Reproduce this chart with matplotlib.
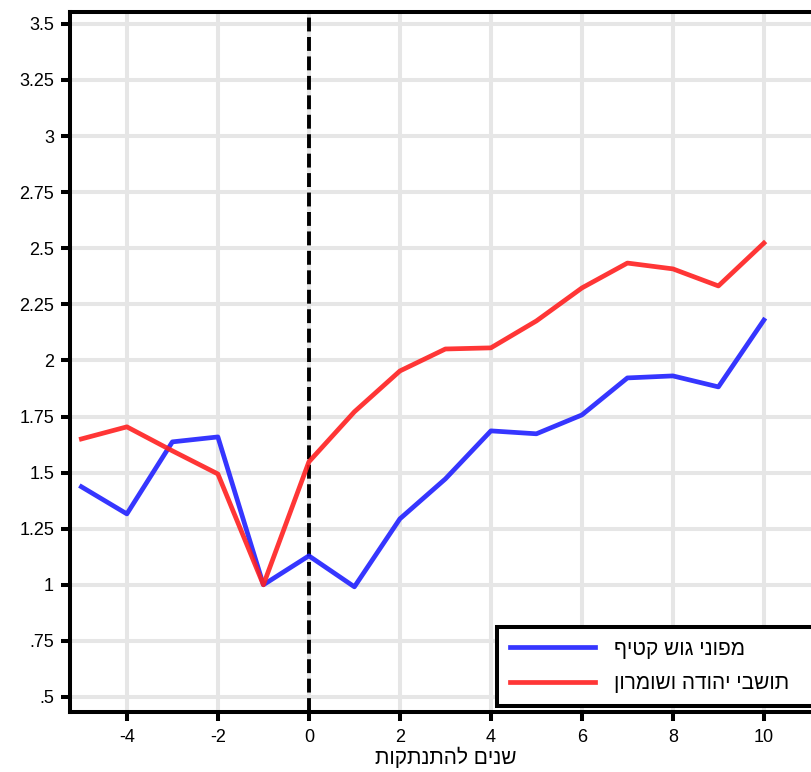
import matplotlib
matplotlib.use('Agg')
import matplotlib.pyplot as plt
import numpy as np

plt.rcParams['font.family'] = ['Liberation Sans', 'DejaVu Sans']
plt.rcParams['lines.scale_dashes'] = False

years = [-5, -4, -3, -2, -1, 0, 1, 2, 3, 4, 5, 6, 7, 8, 9, 10]
gush_katif = [1.437, 1.316, 1.637, 1.659, 1.0, 1.129, 0.991, 1.294, 1.472,
              1.686, 1.673, 1.757, 1.922, 1.931, 1.882, 2.180]
judea_samaria = [1.650, 1.704, 1.597, 1.494, 1.0, 1.548, 1.771, 1.953, 2.051,
                 2.056, 2.176, 2.323, 2.434, 2.408, 2.332, 2.523]

label_blue = 'מפוני גוש קטיף'
label_red = 'תושבי יהודה ושומרון'
xlabel = 'שנים להתנתקות'

xticks = [-4, -2, 0, 2, 4, 6, 8, 10]
yticks = [0.5, 0.75, 1, 1.25, 1.5, 1.75, 2, 2.25, 2.5, 2.75, 3, 3.25, 3.5]
ytick_labels = ['.5', '.75', '1', '1.25', '1.5', '1.75', '2', '2.25', '2.5',
                '2.75', '3', '3.25', '3.5']


def rtl(s):
    # matplotlib has no bidi, so flip hebrew text by hand
    return s[::-1]


W, H = 811, 772
fig = plt.figure(figsize=(W / 100, H / 100), dpi=100)
ax = fig.add_axes([70 / W, 60 / H, 748.5 / W, 700 / H])

ax.set_xlim(-5.25, 11.2)
ax.set_ylim(0.433, 3.553)

ax.grid(True, color='#e6e6e6', linewidth=2.9)
ax.set_axisbelow(True)

ax.axvline(0, color='black', linewidth=2.8, dashes=(10, 4), zorder=2)

ax.plot(years, gush_katif, color='#2020ff', linewidth=3.4, alpha=0.9,
        label=rtl(label_blue), zorder=3)
ax.plot(years, judea_samaria, color='#ff2020', linewidth=3.4, alpha=0.9,
        label=rtl(label_red), zorder=4)

ax.set_xticks(xticks)
ax.set_xticklabels([str(x) for x in xticks])
ax.set_yticks(yticks)
ax.set_yticklabels(ytick_labels)
ax.tick_params(axis='both', direction='out', length=6.5, width=2.9,
               labelsize=13, color='black')
ax.tick_params(axis='y', pad=5)
ax.tick_params(axis='x', pad=6)

for sp in ax.spines.values():
    sp.set_linewidth(2.9)
    sp.set_color('black')

leg = ax.legend(loc='lower left', bbox_to_anchor=(0.5705, 0.009, 0.445, 0.11),
                mode='expand', fontsize=15, frameon=True, fancybox=False,
                handlelength=4.1, handletextpad=0.9, labelspacing=0.75,
                borderpad=0.6, borderaxespad=0)
leg.get_frame().set_edgecolor('black')
leg.get_frame().set_linewidth(2.9)
leg.get_frame().set_facecolor('white')
leg.get_frame().set_alpha(1)
for line in leg.get_lines():
    line.set_linewidth(3.4)

fig.text(446 / W, 1 - 757 / H, rtl(xlabel), ha='center', va='center',
         fontsize=15)

fig.savefig('out.png', dpi=100)
